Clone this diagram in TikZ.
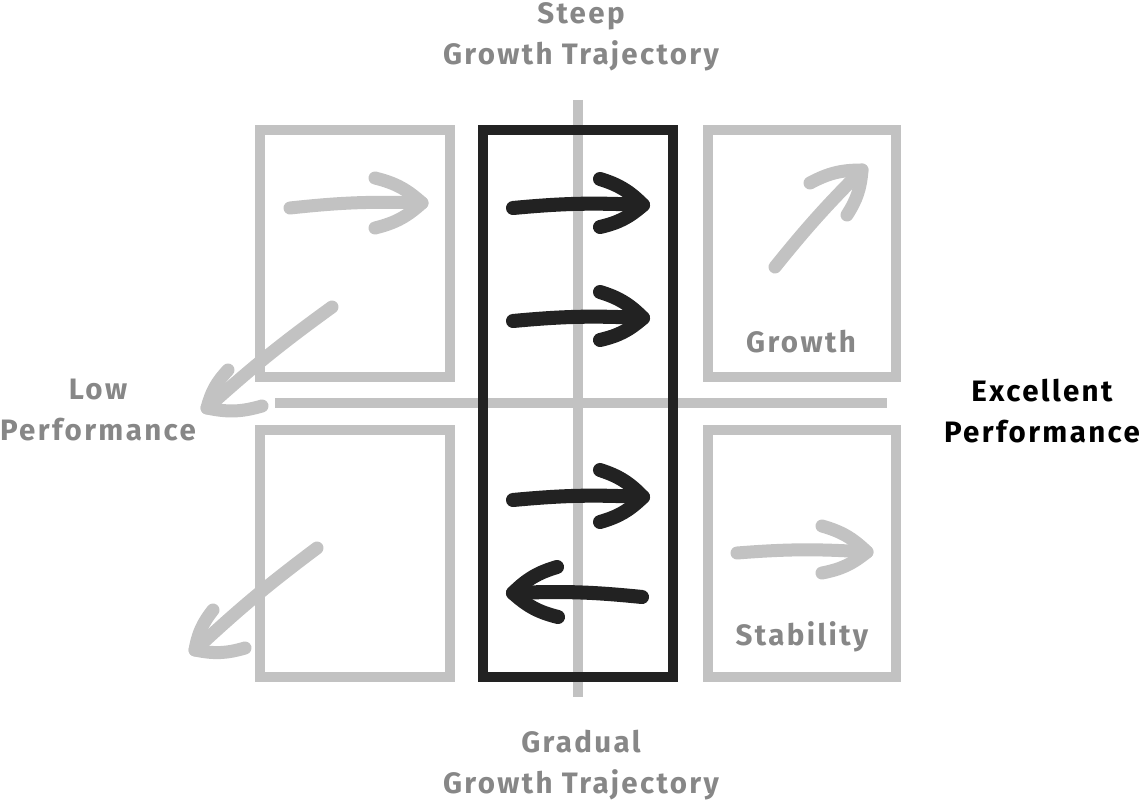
\documentclass[tikz,border=0pt]{standalone}
\usepackage{fontspec}
\setmainfont{Fira Sans}[LetterSpace=8]
\definecolor{lg}{HTML}{C2C2C2}
\definecolor{tg}{HTML}{878787}
\definecolor{dk}{HTML}{222222}
\newcommand{\harrow}[6]{%
  \draw[#1] (#3) to[#2] (#4);
  \draw[#1] (#5) to[bend left=14] (#4) to[bend left=14] (#6);}
\tikzset{
  gbox/.style={draw=lg, line width=5.7pt},
  axis/.style={draw=lg, line width=5.7pt},
  garrow/.style={draw=lg, line width=7.4pt, line cap=round, line join=round},
  karrow/.style={draw=dk, line width=8pt, line cap=round, line join=round},
  lbl/.style={text=tg, font=\bfseries\fontsize{16.8}{23.5}\selectfont, align=center, inner sep=0pt},
}
\begin{document}
\begin{tikzpicture}[x=0.02cm, y=-0.02cm]
\useasboundingbox (0,0) rectangle (1146,804);
% axes
\draw[axis] (578,100) -- (578,697);
\draw[axis] (275,403) -- (887,403);
% gray boxes
\draw[gbox] (260,130) rectangle (450,377);
\draw[gbox] (260,430) rectangle (450,677);
\draw[gbox] (708,130) rectangle (896,377);
\draw[gbox] (708,430) rectangle (896,677);
% black box
\draw[draw=dk, line width=6.2pt] (483,130) rectangle (673,677);
% gray arrows
\harrow{garrow}{bend left=4}{290,208}{422,203}{375,178}{375,228}
\harrow{garrow}{bend left=3}{775,267}{862,170}{810,183}{847,215}
\harrow{garrow}{bend left=4}{737,553}{867,552}{822,526}{822,573}
\harrow{garrow}{bend right=3}{332,307}{207,408}{262,406}{228,370}
\harrow{garrow}{bend right=3}{317,548}{195,650}{245,648}{213,610}
% black arrows
\harrow{karrow}{bend left=4}{513,208}{643,205}{600,179}{600,227}
\harrow{karrow}{bend left=4}{513,321}{643,318}{600,292}{600,340}
\harrow{karrow}{bend left=4}{513,500}{643,497}{600,470}{600,522}
\harrow{karrow}{bend right=4}{642,597}{513,593}{558,617}{557,567}
% labels
\node[lbl] (steep) at (581,37) {Steep\\Growth Trajectory};
\node[lbl] (grad) at (581,765) {Gradual\\Growth Trajectory};
\node[lbl] (low) at (98,410) {Low\\Performance};
\node[lbl, text=black] (exc) at (1042,411) {Excellent\\Performance};
\node[lbl] (gro) at (801,342) {Growth};
\node[lbl] (sta) at (802,637) {Stability};
\end{tikzpicture}
\end{document}
